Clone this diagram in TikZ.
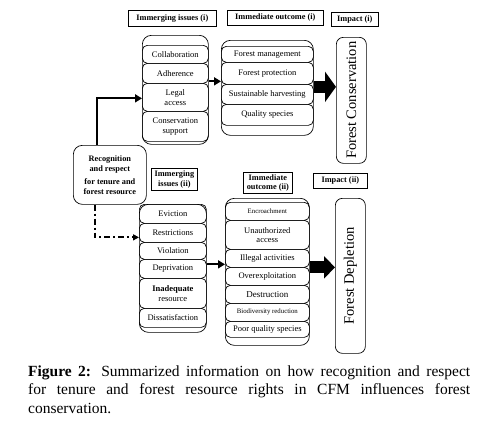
\documentclass[tikz,border=0pt]{standalone}
\usepackage{fontspec}
\setmainfont{Liberation Serif}
\usetikzlibrary{arrows.meta}
\begin{document}
\begin{tikzpicture}[x=1pt,y=-1pt,
  base/.style={draw,line width=0.7pt,anchor=north west,inner sep=0pt,align=center,font=\fontsize{8.5}{9.5}\selectfont},
  hdr/.style={base,font=\bfseries\fontsize{8.3}{9.5}\selectfont},
  cont/.style={base,rounded corners=9pt},
  item/.style={base,rounded corners=5pt},
  impact/.style={base,rounded corners=7pt,font=\fontsize{14.5}{16}\selectfont},
  tiny/.style={font=\fontsize{6.8}{8}\selectfont},
  thk/.style={line width=2.2pt,-{Triangle[width=8pt,length=7pt]}},
  big/.style={line width=12.5pt,-{Triangle[width=30pt,length=11pt]}},
  bigii/.style={line width=12pt,-{Triangle[width=22pt,length=11pt]}}]
\useasboundingbox (0,0) rectangle (482,426);
% headers
\node[hdr,minimum width=88pt,minimum height=16pt] (h1) at (128,10) {Immerging issues (i)};
\node[hdr,minimum width=96pt,minimum height=15pt] (h2) at (227,10) {Immediate outcome (i)};
\node[hdr,minimum width=47pt,minimum height=14pt] (h3) at (331,12) {Impact (i)};
\node[hdr,minimum width=46pt,minimum height=22pt] (h4) at (151,168) {Immerging\\issues (ii)};
\node[hdr,minimum width=49pt,minimum height=21pt] (h5) at (243,172) {Immediate\\outcome (ii)};
\node[hdr,minimum width=54pt,minimum height=15pt] (h6) at (313,173) {Impact (ii)};
% issues (i)
\node[cont,minimum width=66pt,minimum height=109pt] (iss1) at (142,35) {};
\node[item,minimum width=66pt,minimum height=18pt] (c1) at (142,45) {Collaboration};
\node[item,minimum width=66pt,minimum height=20pt] (c2) at (142,63) {Adherence};
\node[item,minimum width=66pt,minimum height=28pt] (c3) at (142,83) {Legal\\access};
\node[item,minimum width=66pt,minimum height=30pt] (c4) at (142,111) {Conservation\\support};
% outcome (i)
\node[cont,minimum width=92pt,minimum height=95pt] (out1) at (221,40) {};
\node[item,minimum width=92pt,minimum height=16pt] (o1) at (221,46) {Forest management};
\node[item,minimum width=92pt,minimum height=22pt] (o2) at (221,62) {Forest protection};
\node[item,minimum width=92pt,minimum height=20pt] (o3) at (221,84) {Sustainable harvesting};
\node[item,minimum width=92pt,minimum height=21pt] (o4) at (221,104) {Quality species};
% impact (i)
\node[impact,minimum width=30pt,minimum height=126pt] (fc) at (336,37) {};
\node[rotate=90,font=\fontsize{14.5}{16}\selectfont,inner sep=0pt] (fct) at (fc.center) {Forest Conservation};
% recognition
\node[cont,minimum width=73pt,minimum height=59pt,font=\bfseries\fontsize{8.3}{10}\selectfont] (rec) at (73,145) {Recognition\\and respect\\[3pt]for tenure and\\forest resource};
% issues (ii)
\node[cont,minimum width=67pt,minimum height=128pt] (iss2) at (139,204) {};
\node[item,minimum width=67pt,minimum height=19pt] (e1) at (139,204) {Eviction};
\node[item,minimum width=67pt,minimum height=19pt] (e2) at (139,223) {Restrictions};
\node[item,minimum width=67pt,minimum height=17pt] (e3) at (139,242) {Violation};
\node[item,minimum width=67pt,minimum height=19pt] (e4) at (139,259) {Deprivation};
\node[item,minimum width=67pt,minimum height=30pt] (e5) at (139,278) {\textbf{Inadequate}\\resource};
\node[item,minimum width=67pt,minimum height=19pt] (e6) at (139,308) {Dissatisfaction};
% outcome (ii)
\node[cont,minimum width=84pt,minimum height=147pt] (out2) at (225,198) {};
\node[item,minimum width=84pt,minimum height=18pt,tiny] (p1) at (225,202) {Encroachment};
\node[item,minimum width=84pt,minimum height=29pt] (p2) at (225,220) {Unauthorized\\access};
\node[item,minimum width=84pt,minimum height=18pt] (p3) at (225,249) {Illegal activities};
\node[item,minimum width=84pt,minimum height=18pt] (p4) at (225,267) {Overexploitation};
\node[item,minimum width=84pt,minimum height=18pt,font=\fontsize{9}{10}\selectfont] (p5) at (225,285) {Destruction};
\node[item,minimum width=84pt,minimum height=18pt,tiny] (p6) at (225,303) {Biodiversity reduction};
\node[item,minimum width=84pt,minimum height=16pt] (p7) at (225,321) {Poor quality species};
% impact (ii)
\node[impact,minimum width=30pt,minimum height=155pt] (fd) at (335,198) {};
\node[rotate=90,font=\fontsize{14.5}{16}\selectfont,inner sep=0pt] (fdt) at (fd.center) {Forest Depletion};
% connectors
\coordinate (a1) at ([xshift=24pt]rec.north west);
\coordinate (a1e) at ([yshift=-8.5pt]iss1.west);
\draw[thk] (a1) |- (a1e);
\coordinate (a2) at ([xshift=22pt]rec.south west);
\coordinate (a2e) at ([yshift=31pt]iss2.west);
\draw[line width=2pt,dash pattern=on 6pt off 3pt on 2pt off 3pt] (a2) |- ([xshift=-6pt]a2e);
\draw[line width=2pt,-{Triangle[width=6pt,length=6pt]}] ([xshift=-7pt]a2e) -- (a2e);
\coordinate (b1) at ([yshift=8.5pt]iss1.east);
\draw[thk] (b1) -- (b1 -| out1.west);
\coordinate (b2) at ([yshift=4pt]iss2.east);
\draw[thk] (b2) -- (b2 -| out2.west);
\coordinate (c1s) at ([yshift=1pt]out1.east);
\draw[big] (c1s) -- (c1s -| fc.west);
\coordinate (c2s) at ([yshift=4.5pt]out2.east);
\draw[bigii] (c2s) -- (c2s -| fd.west);
% caption
\node[anchor=north west,inner sep=0pt,align=left,font=\fontsize{15.5}{18.5}\selectfont] (cap) at (28,365)
 {\makebox[442pt][s]{\textbf{Figure 2:} Summarized information on how recognition and respect}\\
  \makebox[442pt][s]{for tenure and forest resource rights in CFM influences forest}\\
  conservation.};
\end{tikzpicture}
\end{document}
